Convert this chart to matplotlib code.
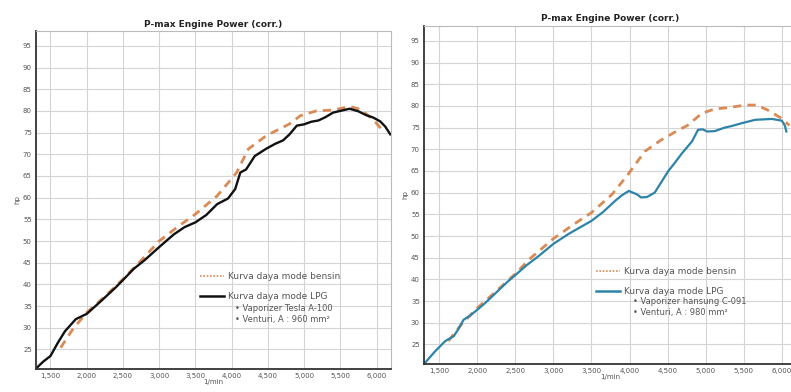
import numpy as np
import matplotlib.pyplot as plt
from matplotlib.lines import Line2D

# left chart: Tesla A-100 vaporizer
left_bensin_rpm = [1640, 1800, 2000, 2250, 2500, 2750, 3000, 3250, 3500, 3800, 4070,
                   4230, 4480, 4800, 4950, 5170, 5400, 5630, 5770, 5950, 6090]
left_bensin_hp = [25.4, 29.5, 33.5, 37.2, 41.2, 45.5, 50.0, 53.2, 56.2, 60.4, 65.8,
                  71.2, 74.3, 77.0, 78.9, 80.0, 80.2, 81.0, 80.4, 78.1, 75.4]
left_lpg_rpm = [1300, 1400, 1500, 1600, 1700, 1850, 2000, 2200, 2400, 2500, 2650, 2800,
                3000, 3200, 3350, 3500, 3650, 3800, 3950, 4050, 4120, 4200, 4320, 4480,
                4600, 4710, 4800, 4900, 5000, 5100, 5200, 5300, 5400, 5500, 5630, 5750,
                5860, 5950, 6050, 6120, 6190]
left_lpg_hp = [20.6, 22.2, 23.5, 26.5, 29.2, 32.0, 33.2, 36.2, 39.3, 41.0, 43.6, 45.6,
               48.6, 51.5, 53.2, 54.3, 56.0, 58.5, 59.8, 62.0, 65.8, 66.5, 69.6, 71.3,
               72.4, 73.2, 74.6, 76.6, 76.9, 77.5, 77.8, 78.6, 79.6, 80.0, 80.5, 79.9,
               79.0, 78.5, 77.6, 76.4, 74.6]

# right chart: hansung C-091 vaporizer
right_bensin_rpm = [1620, 1800, 2000, 2250, 2500, 2700, 3000, 3250, 3500, 3770, 3980,
                    4200, 4420, 4600, 4770, 4950, 5120, 5300, 5520, 5670, 5820, 6000, 6100]
right_bensin_hp = [25.8, 29.8, 33.4, 37.3, 41.3, 44.9, 49.4, 52.5, 55.4, 59.6, 64.2,
                   69.5, 72.2, 74.0, 75.6, 78.3, 79.3, 79.6, 80.2, 80.2, 79.0, 77.1, 75.5]
right_lpg_rpm = [1310, 1450, 1580, 1690, 1750, 1820, 1900, 2000, 2100, 2250, 2400, 2500,
                 2650, 2800, 3000, 3200, 3350, 3500, 3650, 3810, 3900, 3990, 4100, 4150,
                 4230, 4330, 4420, 4510, 4600, 4690, 4820, 4900, 4960, 5020, 5120, 5250,
                 5350, 5470, 5650, 5870, 6000, 6040, 6060]
right_lpg_hp = [20.7, 23.5, 25.8, 26.9, 28.5, 30.7, 31.6, 33.0, 34.5, 37.0, 39.5, 41.0,
                43.3, 45.3, 48.2, 50.5, 52.0, 53.5, 55.5, 58.1, 59.4, 60.4, 59.6, 58.9,
                59.0, 60.0, 62.5, 65.0, 67.0, 69.1, 71.8, 74.5, 74.6, 74.1, 74.2, 75.0,
                75.4, 76.0, 76.8, 77.0, 76.6, 75.5, 74.1]

x_ticks = [1500, 2000, 2500, 3000, 3500, 4000, 4500, 5000, 5500, 6000]
y_ticks = [25, 30, 35, 40, 45, 50, 55, 60, 65, 70, 75, 80, 85, 90, 95]
title = "P-max Engine Power (corr.)"
label_bensin = "Kurva daya mode bensin"
label_lpg = "Kurva daya mode LPG"
left_notes = ["Vaporizer Tesla A-100", "Venturi, A : 960 mm\u00b2"]
right_notes = ["Vaporizer hansung C-091", "Venturi, A : 980 mm\u00b2"]

orange = "#d98a55"
blue = "#2d84a8"
txt = "#555555"

fig = plt.figure(figsize=(7.91, 3.92), dpi=100)
ax1 = fig.add_axes([0.0455, 0.0587, 0.4488, 0.862])
ax2 = fig.add_axes([0.536, 0.0714, 0.4716, 0.862])


def style(ax, title_pad):
    ax.set_xlim(1300, 6200)
    ax.set_ylim(20.5, 98.4)
    ax.set_xticks(x_ticks)
    ax.set_xticklabels(["{:,}".format(v) for v in x_ticks])
    ax.set_yticks(y_ticks)
    ax.tick_params(labelsize=5, colors=txt, length=0, pad=3)
    ax.grid(color="#d4d4d4", lw=0.8)
    ax.set_axisbelow(True)
    for s in ["top", "right"]:
        ax.spines[s].set_color("#bbbbbb")
        ax.spines[s].set_linewidth(0.8)
    for s in ["left", "bottom"]:
        ax.spines[s].set_color("#333333")
        ax.spines[s].set_linewidth(1.3)
    ax.set_title(title, fontsize=6.5, fontweight="bold", color="#222222", pad=title_pad)
    ax.set_xlabel("1/min", fontsize=5, color=txt, labelpad=0)
    ax.set_ylabel("hp", fontsize=5, color=txt, labelpad=2)


def add_legend(ax, lpg_color, notes, anchor, note_y):
    handles = [Line2D([], [], color=orange, lw=1.2, ls=(0, (1, 1))),
               Line2D([], [], color=lpg_color, lw=1.8)]
    leg = ax.legend(handles, [label_bensin, label_lpg], loc="upper left",
                    bbox_to_anchor=anchor, frameon=False, fontsize=6.5,
                    handlelength=2.6, handletextpad=0.5, labelspacing=1.2,
                    borderpad=0)
    for t in leg.get_texts():
        t.set_color(txt)
    for i, note in enumerate(notes):
        ax.text(0.56, note_y[i], "\u2022 " + note,
                transform=ax.transAxes, fontsize=6, color=txt, va="center")


ax1.plot(left_bensin_rpm, left_bensin_hp, color=orange, lw=2.0, ls=(0, (3, 2.2)))
ax1.plot(left_lpg_rpm, left_lpg_hp, color="#111111", lw=1.7)
style(ax1, 3)
add_legend(ax1, "#111111", left_notes, (0.45, 0.30), [0.180, 0.147])

ax2.plot(right_bensin_rpm, right_bensin_hp, color=orange, lw=2.0, ls=(0, (3, 2.2)))
ax2.plot(right_lpg_rpm, right_lpg_hp, color=blue, lw=1.6)
style(ax2, 3.5)
add_legend(ax2, blue, right_notes, (0.45, 0.30), [0.185, 0.152])

fig.savefig("out.png", dpi=100)
